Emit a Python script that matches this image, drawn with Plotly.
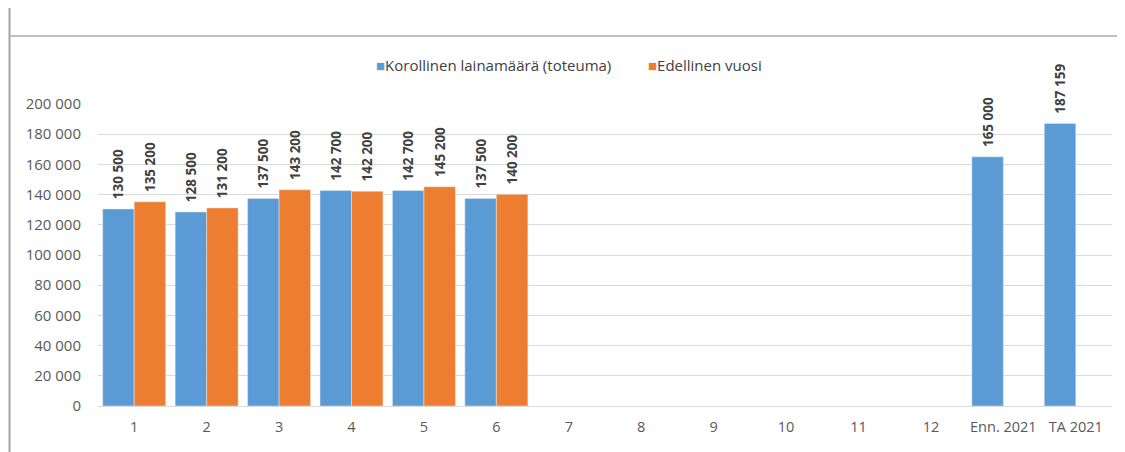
import plotly.graph_objects as go

categories = ["1", "2", "3", "4", "5", "6", "7", "8", "9", "10", "11", "12", "Enn. 2021", "TA 2021"]
toteuma = [130500, 128500, 137500, 142700, 142700, 137500, None, None, None, None, None, None, 165000, 187159]
edellinen = [135200, 131200, 143200, 142200, 145200, 140200, None, None, None, None, None, None, None, None]
y_ticks = list(range(0, 200001, 20000))

font = "Open Sans"
blue = "#5B9BD5"
orange = "#ED7D31"

fig = go.Figure()
for name, vals, col in [("Korollinen lainamäärä (toteuma)", toteuma, blue),
                        ("Edellinen vuosi", edellinen, orange)]:
    fig.add_trace(go.Bar(
        x=categories, y=vals, name=name, marker_color=col,
        texttemplate="\u2002%{y:,}", textposition="outside", textangle=-90,
        constraintext="none",
        textfont=dict(family=font, size=13.5, color="#404040", weight="bold"),
        cliponaxis=False,
    ))

# page is offset by 8px body margin -> positions below are page pixels
px = lambda v: (v - 98) / 1014
py = lambda v: (406 - v) / 302

# frame lines of the original screenshot
fig.add_shape(type="line", xref="paper", yref="paper",
              x0=px(9.5), x1=px(9.5), y0=py(0), y1=py(452),
              line=dict(color="#a6a6a6", width=2))
fig.add_shape(type="line", xref="paper", yref="paper",
              x0=px(10), x1=px(1125), y0=py(36), y1=py(36),
              line=dict(color="#bfbfbf", width=2))

# legend drawn as text
fig.add_annotation(xref="paper", yref="paper", x=px(374), y=py(65),
                   xanchor="left", yanchor="middle", showarrow=False,
                   text=f'<span style="color:{blue}">■</span>Korollinen lainamäärä (toteuma)',
                   font=dict(family=font, size=15, color="#404040"))
fig.add_annotation(xref="paper", yref="paper", x=px(646), y=py(65),
                   xanchor="left", yanchor="middle", showarrow=False,
                   text=f'<span style="color:{orange}">■</span>Edellinen vuosi',
                   font=dict(family=font, size=15, color="#404040"))

fig.update_layout(
    width=1117, height=444,
    margin=dict(l=90, r=13, t=96, b=46),
    paper_bgcolor="white", plot_bgcolor="white",
    barmode="group", bargap=0.13, bargroupgap=0,
    separators=", ",
    font=dict(family=font, size=14, color="#595959"),
    showlegend=False,
)
fig.update_xaxes(showgrid=False, showline=True, linecolor="#d9d9d9", linewidth=1,
                 ticks="", ticklabelstandoff=8,
                 tickfont=dict(size=14.5, color="#595959"))
fig.update_yaxes(range=[0, 200000], tickvals=y_ticks, tickformat=",d",
                 showgrid=True, gridcolor="#d9d9d9", gridwidth=1,
                 zeroline=False, showline=False, ticks="", ticklabelstandoff=16,
                 tickfont=dict(size=15, color="#595959"))
fig.write_html("out.html")
